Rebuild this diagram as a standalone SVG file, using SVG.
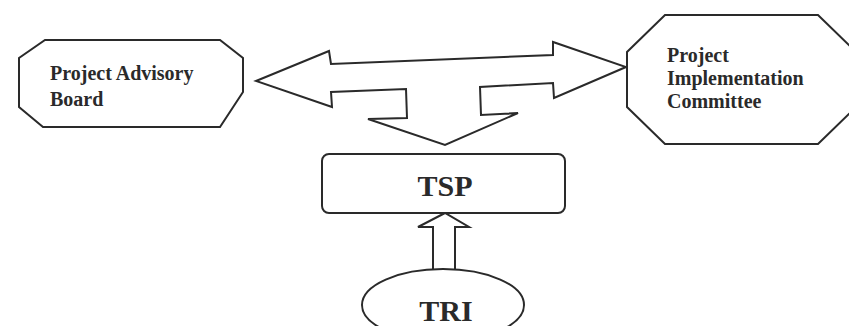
<svg xmlns="http://www.w3.org/2000/svg" width="849" height="326" viewBox="0 0 849 326">
<style>
.shape{fill:#ffffff;stroke:#2a2a2a;stroke-width:2;stroke-linejoin:miter}
.lbl{font-family:"Liberation Serif","Times New Roman",serif;font-weight:bold;fill:#2a2a2a}
.small{font-size:20px}
.big{font-size:30px}
</style>
<rect width="849" height="326" fill="#ffffff"/>
<g id="connectors">
<path class="shape" d="M256,81 L329,51 L331,64 L553,55 L553,42 L626,67 L554,98 L553,83 L480,87 L481,115 L518,113 L445,145 L368,119 L407,118 L406,89 L331,92 L332,107 Z"/>
<path class="shape" d="M433,269 L433,227 L418,227 L445,213 L469,227 L455,227 L455,269"/>
</g>
<g id="advisory-board">
<polygon class="shape" points="45,40 220,40 243,58 243,92 220,127 43,127 19,107 19,58"/>
<text class="lbl small" x="50" y="80">Project Advisory</text>
<text class="lbl small" x="50" y="106">Board</text>
</g>
<g id="implementation-committee">
<polygon class="shape" points="665,15 818,15 856,52 856,107 818,144 665,144 627,107 627,52"/>
<text class="lbl small" x="667" y="62">Project</text>
<text class="lbl small" x="667" y="85">Implementation</text>
<text class="lbl small" x="667" y="108">Committee</text>
</g>
<g id="tsp">
<rect class="shape" x="322" y="154" width="243" height="59" rx="7"/>
<text class="lbl big" x="445" y="196" text-anchor="middle">TSP</text>
</g>
<g id="tri">
<ellipse class="shape" cx="443" cy="305" rx="81" ry="36"/>
<text class="lbl big" x="446" y="321" text-anchor="middle">TRI</text>
</g>
</svg>
